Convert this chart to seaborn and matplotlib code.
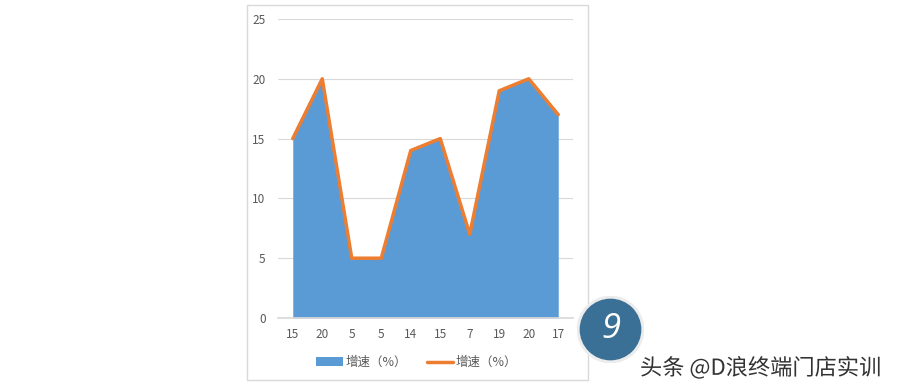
import matplotlib
matplotlib.use("Agg")
import matplotlib.pyplot as plt
import matplotlib.patheffects as pe
from matplotlib.patches import Rectangle, Circle
import seaborn as sns
import pandas as pd

# data
labels = ["15", "20", "5", "5", "14", "15", "7", "19", "20", "17"]
speed = [15, 20, 5, 5, 14, 15, 7, 19, 20, 17]
series_name = "增速（%）"

df = pd.DataFrame({"pos": range(len(labels)), "speed": speed})

sns.set_theme(style="white")
plt.rcParams["font.family"] = ["Noto Sans CJK SC", "DejaVu Sans"]

fig = plt.figure(figsize=(9, 3.9), dpi=100)

# outer chart box (drawn beneath the badge)
fig.patches.append(Rectangle((247 / 900, 10 / 390), 341 / 900, 375 / 390,
                             transform=fig.transFigure, fill=False,
                             edgecolor="#d9d9d9", linewidth=1, zorder=-1))

ax = fig.add_axes([278 / 900, 72 / 390, 295 / 900, 299 / 390])

blue = "#5b9bd5"
orange = "#ed7d31"

ax.fill_between(df["pos"], df["speed"], 0, color=blue, linewidth=0, label=series_name)
sns.lineplot(data=df, x="pos", y="speed", ax=ax, color=orange, linewidth=2.5,
             label=series_name)

ax.set_xlim(-0.5, len(labels) - 0.5)
ax.set_ylim(0, 25)
ax.set_yticks([0, 5, 10, 15, 20, 25])
ax.set_xticks(range(len(labels)))
ax.set_xticklabels(labels)
ax.set_xlabel("")
ax.set_ylabel("")
ax.yaxis.grid(True, color="#d9d9d9", linewidth=0.8)
ax.set_axisbelow(True)
for s in ["top", "right", "left"]:
    ax.spines[s].set_visible(False)
ax.spines["bottom"].set_color("#d9d9d9")
ax.tick_params(axis="both", length=0, labelsize=8.5, colors="#595959", pad=7)
ax.tick_params(axis="y", pad=9)

leg = ax.legend(loc="upper center", bbox_to_anchor=(0.47, -0.09), ncol=2, frameon=False,
                fontsize=9, handlelength=2.1, columnspacing=1.6,
                labelcolor="#595959", handletextpad=0.2)

# badge
ax_b = fig.add_axes([577 / 900, 1 - 363 / 390, 67 / 900, 67 / 390], zorder=5)
ax_b.set_xlim(-1, 1)
ax_b.set_ylim(-1, 1)
ax_b.set_aspect("equal")
ax_b.axis("off")
ax_b.add_patch(Circle((0, 0), 0.99, color="#ececec"))
ax_b.add_patch(Circle((0, 0), 0.9, color="#3a6f96"))
ax_b.text(0, 0.02, "9", color="white", fontsize=25, ha="center", va="center",
          style="italic", family=["Open Sans", "DejaVu Sans"])

# watermark
fig.text(640 / 900, 1 - 368 / 390, "头条 @D浪终端门店实训", fontsize=16,
         color="#333333", ha="left", va="center",
         path_effects=[pe.withStroke(linewidth=2.5, foreground="white")])

fig.savefig("out.png", dpi=100)
